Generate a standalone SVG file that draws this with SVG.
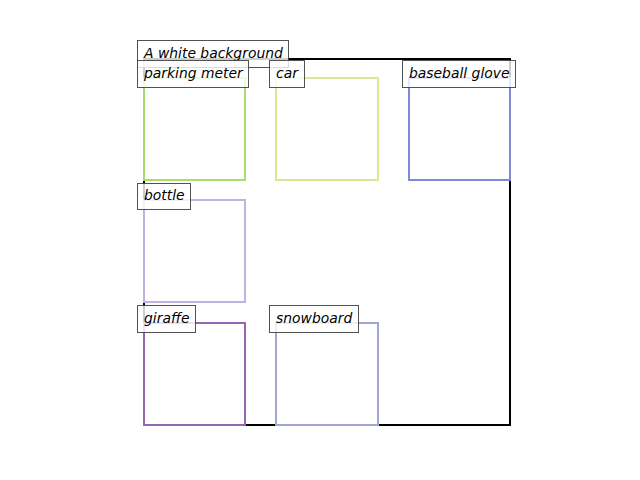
<svg xmlns="http://www.w3.org/2000/svg" width="640" height="480" viewBox="0 0 640 480">
<style>
.box{fill:none;stroke-width:2}
.lbl rect{fill:#ffffff;fill-opacity:0.8;stroke:#3f3f3f;stroke-opacity:0.9;stroke-width:1}
.lbl text{font-family:"DejaVu Sans",sans-serif;font-style:oblique;font-size:13.9px;fill:#000}
</style>
<rect width="640" height="480" fill="#ffffff"/>
<g id="background">
<rect x="144" y="59" width="366" height="366" fill="none" stroke="#000" stroke-width="2"/>
</g>
<g id="parking-meter"><rect class="box" x="144" y="78" width="101" height="102" stroke="#a8dc6c"/></g>
<g id="car"><rect class="box" x="276" y="78" width="102" height="102" stroke="#d8e894"/></g>
<g id="baseball-glove"><rect class="box" x="409" y="78" width="101" height="102" stroke="#8088d8"/></g>
<g id="bottle"><rect class="box" x="144" y="200" width="101" height="102" stroke="#c2b2e4"/></g>
<g id="giraffe"><rect class="box" x="144" y="323" width="101" height="102" stroke="#9866b0"/></g>
<g id="snowboard"><rect class="box" x="276" y="323" width="102" height="102" stroke="#a2a6d2"/></g>
<g id="labels">
<g class="lbl" id="label-background"><rect x="137.5" y="40.5" width="151" height="27"/><text x="144" y="58">A white background</text></g>
<g class="lbl" id="label-parking-meter"><rect x="137.5" y="60.5" width="111" height="27"/><text x="144" y="78">parking meter</text></g>
<g class="lbl" id="label-car"><rect x="269.5" y="60.5" width="35" height="27"/><text x="276" y="78">car</text></g>
<g class="lbl" id="label-baseball-glove"><rect x="402.5" y="60.5" width="113" height="27"/><text x="409" y="78">baseball glove</text></g>
<g class="lbl" id="label-bottle"><rect x="137.5" y="183.5" width="53" height="26"/><text x="144" y="200">bottle</text></g>
<g class="lbl" id="label-giraffe"><rect x="137.5" y="305.5" width="58" height="27"/><text x="144" y="323">giraffe</text></g>
<g class="lbl" id="label-snowboard"><rect x="269.5" y="305.5" width="89" height="27"/><text x="276" y="323">snowboard</text></g>
</g>
</svg>
